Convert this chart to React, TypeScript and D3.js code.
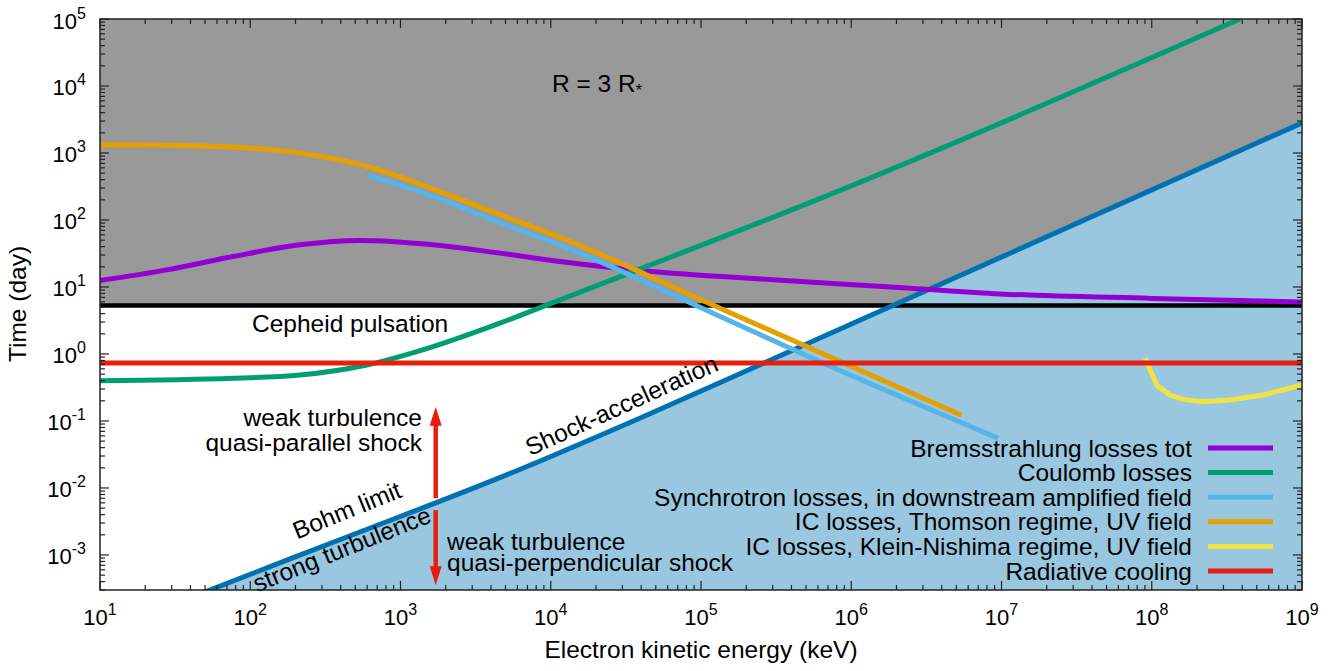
import React from "react";
import * as d3 from "d3";

// energies in keV, times in days
const bremsE = [10, 27.8, 76.9, 214, 537, 1650, 4590, 11500, 39300, 302000, 2.34e6, 9.77e6, 1e8, 1e9];
const bremsT = [12.5, 18.0, 28.5, 42.6, 49.4, 42.6, 32.0, 24.0, 17.6, 12.8, 9.68, 7.89, 6.76, 5.98];

const coulombE = [10, 76.9, 214, 596, 1650, 4590, 11500, 5.89e5, 3.86e8];
const coulombT = [0.399, 0.434, 0.485, 0.686, 1.29, 2.88, 6.41, 200, 1e5];

const syncE = [611, 1650, 4590, 11500, 1e5, 6.46e5, 9.48e6];
const syncT = [458, 225, 90.8, 42.6, 4.9, 0.735, 0.0555];

const icThomE = [10, 31.6, 76.9, 214, 596, 1000, 1650, 4590, 11500, 133700, 5.43e6];
const icThomT = [1330, 1300, 1230, 1000, 631, 437, 288, 120, 55, 4.82, 0.122];

const icKnE = [9.02e7, 1.08e8, 1.32e8, 1.62e8, 2.2e8, 3.32e8, 5.52e8, 1e9];
const icKnT = [0.863, 0.344, 0.244, 0.21, 0.194, 0.205, 0.244, 0.344];

const shockE = [45, 56.5, 398, 5830, 39800, 2.6e5, 1e9];
const shockT = [2.56e-4, 3.13e-4, 1.7e-3, 0.0178, 0.112, 0.726, 2810];

const CEPHEID_T = 5.27;
const RADIATIVE_T = 0.734;

const ARROW_E = 1715;
const arrowUp = [7.03e-3, 0.163];
const arrowDown = [4.66e-3, 3.52e-4];

const xExps = [1, 2, 3, 4, 5, 6, 7, 8, 9];
const yExps = [-3, -2, -1, 0, 1, 2, 3, 4, 5];

const legendNames = [
  "Bremsstrahlung losses tot",
  "Coulomb losses",
  "Synchrotron losses, in downstream amplified field",
  "IC losses, Thomson regime, UV field",
  "IC losses, Klein-Nishima regime, UV field",
  "Radiative cooling",
];
const legendColors = ["#9400D3", "#009E73", "#56B4E9", "#E69F00", "#F0E442", "#E51E10"];

const W = 1344, H = 671;
const L = 100, R = 1302, T = 19, B = 590;
const FONT = "'Liberation Sans', Arial, Helvetica, sans-serif";

const zip = (a: number[], b: number[]) => a.map((v, i) => [v, b[i]] as [number, number]);

export default function App() {
  const x = d3.scaleLog().domain([10, 1e9]).range([L, R]);
  const y = d3.scaleLog().domain([3e-4, 1e5]).range([B, T]);

  const line = d3.line<[number, number]>().x((d) => x(d[0])).y((d) => y(d[1]));
  const smooth = d3.line<[number, number]>().x((d) => x(d[0])).y((d) => y(d[1])).curve(d3.curveMonotoneX);
  const area = d3
    .area<[number, number]>()
    .x((d) => x(d[0]))
    .y0(B + 5)
    .y1((d) => y(d[1]))
    .curve(d3.curveMonotoneX);

  const shock = zip(shockE, shockT);
  const curves = [
    { d: smooth(zip(bremsE, bremsT)), c: legendColors[0] },
    { d: smooth(zip(coulombE, coulombT)), c: legendColors[1] },
    { d: smooth(zip(syncE, syncT)), c: legendColors[2] },
    { d: smooth(zip(icThomE, icThomT)), c: legendColors[3] },
    { d: line(zip(icKnE, icKnT)), c: legendColors[4] },
    { d: line([[10, RADIATIVE_T], [1e9, RADIATIVE_T]]), c: legendColors[5] },
  ];

  const minorX: number[] = [];
  xExps.slice(0, -1).forEach((e) => {
    for (let k = 2; k <= 9; k++) minorX.push(k * Math.pow(10, e));
  });
  const minorY: number[] = [];
  [-4, ...yExps.slice(0, -1)].forEach((e) => {
    for (let k = 2; k <= 9; k++) {
      const v = k * Math.pow(10, e);
      if (v >= 3e-4 && v <= 1e5) minorY.push(v);
    }
  });

  const ax = x(ARROW_E);
  const head = (tipY: number, dir: number) =>
    `M${ax},${tipY} L${ax - 6},${tipY + dir * 19} L${ax + 6},${tipY + dir * 19} Z`;

  const tickStroke = "#222";

  return (
    <div style={{ position: "absolute", left: 0, top: 0 }}>
      <svg width={W} height={H} style={{ display: "block", fontFamily: FONT }}>
        <defs>
          <clipPath id="plotclip">
            <rect x={L} y={T} width={R - L} height={B - T} />
          </clipPath>
        </defs>
        <g clipPath="url(#plotclip)">
          <rect x={L} y={T} width={R - L} height={y(CEPHEID_T) - T} fill="#999999" />
          <path d={area(shock) || ""} fill="#99C7E0" />
          <line x1={L} x2={R} y1={y(CEPHEID_T)} y2={y(CEPHEID_T)} stroke="#000" strokeWidth={4.5} />
          <path d={smooth(shock) || ""} fill="none" stroke="#0072B2" strokeWidth={5} />
          {curves.map((c, i) => (
            <path key={i} d={c.d || ""} fill="none" stroke={c.c} strokeWidth={5} />
          ))}
          {/* arrows */}
          <line x1={ax} x2={ax} y1={y(arrowUp[0])} y2={y(arrowUp[1]) + 15} stroke="#E51E10" strokeWidth={4.5} />
          <path d={head(y(arrowUp[1]), 1)} fill="#E51E10" />
          <line x1={ax} x2={ax} y1={y(arrowDown[0])} y2={y(arrowDown[1]) - 15} stroke="#E51E10" strokeWidth={4.5} />
          <path d={head(y(arrowDown[1]), -1)} fill="#E51E10" />
        </g>

        {/* annotations */}
        <g fontSize={24.5} fill="#000">
          <text x={552} y={92}>
            R = 3 R<tspan fontSize={16} dy={4}>*</tspan>
          </text>
          <text x={252} y={332}>Cepheid pulsation</text>
          <text x={422} y={426} textAnchor="end">weak turbulence</text>
          <text x={422} y={451} textAnchor="end">quasi-parallel shock</text>
          <text x={447} y={550}>weak turbulence</text>
          <text x={447} y={571}>quasi-perpendicular shock</text>
          <text transform="translate(625,413) rotate(-24.5)" textAnchor="middle">
            Shock-acceleration
          </text>
          <text transform="translate(350,518) rotate(-22)" textAnchor="middle">
            Bohm limit
          </text>
          <text transform="translate(345,557) rotate(-22)" textAnchor="middle">
            strong turbulence
          </text>
        </g>

        {/* legend */}
        <g fontSize={24.5}>
          {legendNames.map((n, i) => {
            const ry = 448 + i * 24.6;
            return (
              <g key={n}>
                <text x={1192} y={ry + 8.5} textAnchor="end">
                  {n}
                </text>
                <line x1={1208} x2={1273} y1={ry} y2={ry} stroke={legendColors[i]} strokeWidth={5} />
              </g>
            );
          })}
        </g>

        {/* ticks */}
        <g stroke={tickStroke} strokeWidth={1.2}>
          {xExps.map((e) => {
            const px = x(Math.pow(10, e));
            return (
              <g key={"xm" + e}>
                <line x1={px} x2={px} y1={B} y2={B - 9} />
                <line x1={px} x2={px} y1={T} y2={T + 9} />
              </g>
            );
          })}
          {minorX.map((v) => (
            <g key={"xn" + v}>
              <line x1={x(v)} x2={x(v)} y1={B} y2={B - 5} />
              <line x1={x(v)} x2={x(v)} y1={T} y2={T + 5} />
            </g>
          ))}
          {yExps.map((e) => {
            const py = y(Math.pow(10, e));
            return (
              <g key={"ym" + e}>
                <line x1={L} x2={L + 9} y1={py} y2={py} />
                <line x1={R} x2={R - 9} y1={py} y2={py} />
              </g>
            );
          })}
          {minorY.map((v) => (
            <g key={"yn" + v}>
              <line x1={L} x2={L + 5} y1={y(v)} y2={y(v)} />
              <line x1={R} x2={R - 5} y1={y(v)} y2={y(v)} />
            </g>
          ))}
        </g>
        <rect x={L} y={T} width={R - L} height={B - T} fill="none" stroke={tickStroke} strokeWidth={1.5} />

        {/* tick labels */}
        <g fontSize={22} fill="#000">
          {xExps.map((e) => (
            <text key={"xl" + e} x={x(Math.pow(10, e))} y={625} textAnchor="middle">
              10<tspan fontSize={16} dy={-10}>{e}</tspan>
            </text>
          ))}
          {yExps.map((e) => (
            <text key={"yl" + e} x={86} y={y(Math.pow(10, e)) + 9.5} textAnchor="end">
              10<tspan fontSize={16} dy={-10}>{e}</tspan>
            </text>
          ))}
        </g>

        {/* axis titles */}
        <text x={701} y={658} textAnchor="middle" fontSize={24.5}>
          Electron kinetic energy (keV)
        </text>
        <text transform="translate(26,304) rotate(-90)" textAnchor="middle" fontSize={24.5}>
          Time (day)
        </text>
      </svg>
    </div>
  );
}
